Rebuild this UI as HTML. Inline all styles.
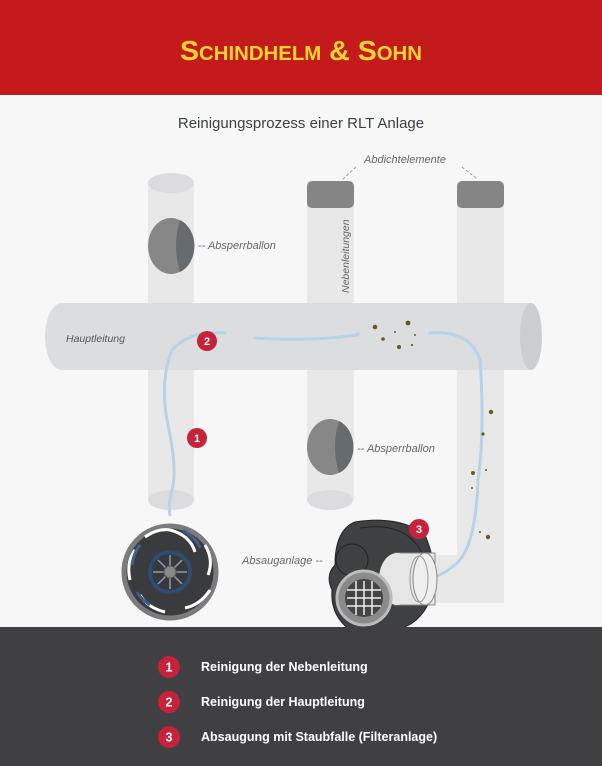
<!DOCTYPE html>
<html><head><meta charset="utf-8"><style>
html,body{margin:0;padding:0;}
body{width:602px;height:766px;overflow:hidden;font-family:"Liberation Sans",sans-serif;}
</style></head><body>
<svg width="602" height="766" viewBox="0 0 602 766" xmlns="http://www.w3.org/2000/svg">
<rect x="0" y="0" width="602" height="766" fill="#f7f7f7"/>
<rect x="0" y="0" width="602" height="95" fill="#c41a1c"/>
<text x="180" y="60" font-family="Liberation Sans, sans-serif" font-size="28" font-weight="bold" fill="#f7d531" style="font-variant:small-caps" textLength="242" lengthAdjust="spacingAndGlyphs">Schindhelm &amp; Sohn</text>
<text x="301" y="128" text-anchor="middle" font-size="15" fill="#39404a">Reinigungsprozess einer RLT Anlage</text>

<!-- upper verticals -->
<rect x="148" y="183" width="46" height="125" fill="#e8e8e9"/>
<ellipse cx="171" cy="183" rx="23" ry="10" fill="#dcdcde"/>
<rect x="307" y="200" width="47" height="108" fill="#e8e8e9"/>
<rect x="457" y="200" width="47" height="108" fill="#e8e8e9"/>
<rect x="307" y="181" width="47" height="27" rx="5" fill="#858585"/>
<rect x="457" y="181" width="47" height="27" rx="5" fill="#858585"/>
<text transform="translate(349,293) rotate(-90)" font-size="10.5" font-style="italic" fill="#666">Nebenleitungen</text>
<!-- balloon 1 -->
<ellipse cx="171" cy="246" rx="23" ry="28" fill="#878787"/>
<path d="M180 220 A23 28 0 0 1 180 272 Q172 246 180 220Z" fill="#666b70"/>
<text x="198" y="249" font-size="11" font-style="italic" fill="#666">-- Absperrballon</text>
<text x="364" y="163" font-size="11" font-style="italic" fill="#666">Abdichtelemente</text>
<path d="M356 167 L342 180 M462 167 L476 178" stroke="#999" stroke-dasharray="3,2"/>

<!-- lower verticals -->
<rect x="148" y="355" width="46" height="145" fill="#e8e8e9"/>
<ellipse cx="171" cy="500" rx="23" ry="10" fill="#dcdcde"/>
<rect x="307" y="355" width="47" height="145" fill="#e8e8e9"/>
<ellipse cx="330" cy="500" rx="23" ry="10" fill="#dcdcde"/>
<ellipse cx="171" cy="356" rx="23" ry="12" fill="#ececed"/>
<ellipse cx="330" cy="356" rx="23" ry="12" fill="#ececed"/>
<rect x="457" y="355" width="47" height="248" fill="#e8e8e9"/>
<rect x="425" y="555" width="79" height="48" fill="#e8e8e9"/>
<ellipse cx="480" cy="356" rx="23" ry="12" fill="#ececed"/>

<!-- main pipe -->
<path d="M62 303 L531 303 L531 370 L62 370 A17 33.5 0 0 1 62 303Z" fill="#dcdddf"/>
<ellipse cx="531" cy="336.5" rx="11" ry="33.5" fill="#cdced0"/>
<text x="66" y="342" font-size="10.5" font-style="italic" fill="#555">Hauptleitung</text>

<!-- airflow -->
<g fill="none" stroke="#b5d3ea" stroke-width="3" stroke-linecap="round">
<path d="M225 333 Q190 330 172 350 Q160 380 167 420 Q178 470 172 490 Q168 505 170 515" />
<path d="M255 338 Q300 341 340 337 Q360 335 358 334"/>
<path d="M430 333 Q470 330 480 360 Q485 430 478 480 Q476 540 460 560 Q445 575 430 578"/>
</g>
<!-- dirt -->
<g fill="#6b5a1e">
<circle cx="375" cy="327" r="2.3"/><circle cx="408" cy="323" r="2.4"/><circle cx="383" cy="339" r="1.8"/><circle cx="399" cy="347" r="2"/><circle cx="395" cy="332" r="1"/><circle cx="412" cy="345" r="1.1"/><circle cx="415" cy="335" r="1"/>
<circle cx="491" cy="412" r="2.2"/><circle cx="483" cy="434" r="1.6"/><circle cx="473" cy="473" r="2"/><circle cx="486" cy="470" r="1"/><circle cx="472" cy="488" r="1"/><circle cx="488" cy="537" r="2.2"/><circle cx="480" cy="532" r="1"/>
</g>
<!-- balloon 2 -->
<ellipse cx="330" cy="447" rx="23" ry="28" fill="#878787"/>
<path d="M339 421 A23 28 0 0 1 339 473 Q331 447 339 421Z" fill="#666b70"/>
<text x="357" y="452" font-size="11" font-style="italic" fill="#666">-- Absperrballon</text>

<!-- badges -->
<g font-size="11" font-weight="bold" fill="#fff" text-anchor="middle">
<circle cx="207" cy="341" r="10" fill="#c8213a"/><text x="207" y="345">2</text>
<circle cx="197" cy="438" r="10" fill="#c8213a"/><text x="197" y="442">1</text>
</g>

<!-- fan -->
<circle cx="170" cy="572" r="46" fill="#3a3b3f" stroke="#7b7b7d" stroke-width="5"/>
<g stroke="#fff" stroke-width="3" fill="none">
<path d="M170 530 Q190 535 195 552"/><path d="M205 545 Q214 560 208 575"/><path d="M210 590 Q200 605 185 608"/><path d="M165 612 Q148 608 140 595"/><path d="M130 580 Q126 562 135 550"/><path d="M145 537 Q158 528 170 530"/>
</g>
<g stroke="#3d5f88" stroke-width="3" fill="none">
<path d="M183 530 Q198 540 200 548"/><path d="M132 565 Q134 552 140 545"/><path d="M150 605 Q140 598 137 592"/>
</g>
<circle cx="170" cy="572" r="20" fill="#35393f" stroke="#2e4c6f" stroke-width="4"/>
<g stroke="#999" stroke-width="1.5">
<path d="M170 555 V589 M153 572 H187 M158 560 L182 584 M182 560 L158 584"/>
</g>
<circle cx="170" cy="572" r="6" fill="#888" stroke="#555"/>

<!-- blower -->
<path d="M355 522 Q400 515 425 535 Q440 570 430 600 Q420 625 395 630 L350 630 Q330 615 332 590 Q325 575 335 565 Q335 530 355 522Z" fill="#3f4044" stroke="#222" stroke-width="1"/>
<circle cx="352" cy="560" r="16" fill="none" stroke="#222" stroke-width="1"/>
<path d="M360 528 Q410 520 425 560" stroke="#222" fill="none"/>
<rect x="395" y="553" width="40" height="52" fill="#e6e6e6" stroke="#888"/>
<ellipse cx="397" cy="579" rx="18" ry="26" fill="#e6e6e6"/>
<ellipse cx="425" cy="579" rx="12" ry="26" fill="#efefef" stroke="#888"/>
<ellipse cx="419" cy="579" rx="9" ry="23" fill="none" stroke="#999"/>
<circle cx="364" cy="598" r="27" fill="#8a8a8a" stroke="#bbb" stroke-width="3"/>
<circle cx="364" cy="598" r="19" fill="#444"/>
<g stroke="#eee" stroke-width="1.5">
<path d="M347 590 H381 M347 598 H381 M347 606 H381 M356 581 V615 M364 581 V615 M372 581 V615"/>
</g>
<circle cx="419" cy="529" r="10" fill="#c8213a"/><text x="419" y="533" font-size="11" font-weight="bold" fill="#fff" text-anchor="middle">3</text>
<text x="242" y="564" font-size="11" font-style="italic" fill="#666">Absauganlage --</text>

<!-- footer -->
<rect x="0" y="627" width="602" height="139" fill="#404042"/>
<g font-size="12.5" font-weight="bold" fill="#fff">
<circle cx="169" cy="667" r="11" fill="#c8213a"/><text x="169" y="671.5" text-anchor="middle">1</text>
<text x="201" y="671">Reinigung der Nebenleitung</text>
<circle cx="169" cy="702" r="11" fill="#c8213a"/><text x="169" y="706.5" text-anchor="middle">2</text>
<text x="201" y="706">Reinigung der Hauptleitung</text>
<circle cx="169" cy="737" r="11" fill="#c8213a"/><text x="169" y="741.5" text-anchor="middle">3</text>
<text x="201" y="741">Absaugung mit Staubfalle (Filteranlage)</text>
</g>
</svg>
</body></html>
